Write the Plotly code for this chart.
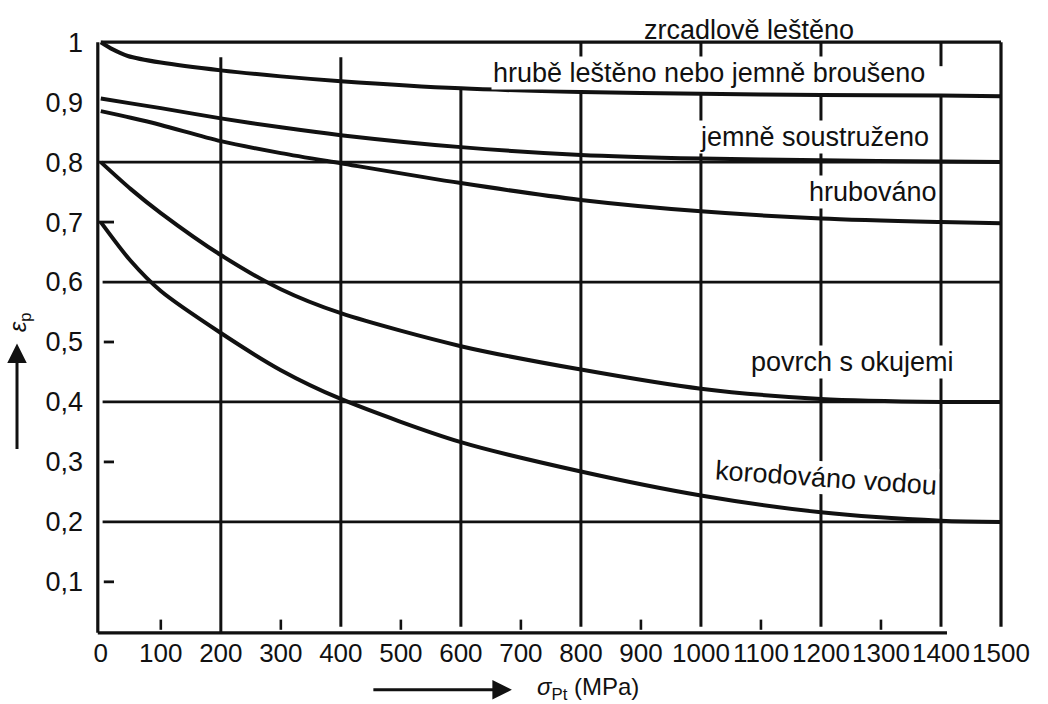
import numpy as np
import plotly.graph_objects as go

# ---- data -------------------------------------------------------------------
sigma = [0, 50, 100, 200, 300, 400, 600, 800, 1000, 1200, 1400, 1500]
sigma_hrube = [0, 20, 45, 100, 200, 300, 400, 600, 800, 1000, 1200, 1400, 1500]

sigma_zrcadlove = [0, 1500]
eps_zrcadlove = [1.0, 1.0]
eps_hrube = [1.000, 0.988, 0.977, 0.966, 0.953, 0.943, 0.935, 0.923, 0.917, 0.914, 0.912, 0.911, 0.910]
eps_jemne = [0.906, 0.898, 0.890, 0.873, 0.858, 0.845, 0.825, 0.812, 0.806, 0.803, 0.801, 0.800]
eps_hrubovano = [0.885, 0.874, 0.862, 0.835, 0.815, 0.798, 0.765, 0.737, 0.718, 0.706, 0.700, 0.698]
eps_okuje = [0.800, 0.755, 0.715, 0.645, 0.588, 0.548, 0.493, 0.454, 0.422, 0.405, 0.400, 0.400]
eps_voda = [0.700, 0.635, 0.585, 0.515, 0.453, 0.405, 0.333, 0.284, 0.244, 0.216, 0.202, 0.200]

curve_labels = ["zrcadlově leštěno", "hrubě leštěno nebo jemně broušeno",
                "jemně soustruženo", "hrubováno", "povrch s okujemi", "korodováno vodou"]
label_x = [1080, 1014, 1189, 1287, 1252, 1209]
label_y = [1.022, 0.948, 0.842, 0.750, 0.467, 0.273]
label_angle = [0, 0, 0, 0, 0, 4]

x_ticks = [0, 100, 200, 300, 400, 500, 600, 700, 800, 900, 1000, 1100, 1200, 1300, 1400, 1500]
x_ticktext = ["0", "100", "200", "300", "400", "500", "600", "700", "800", "900",
              "1000", "1100", "1200", "1300", "1400", "1500"]
y_ticks = [0.1, 0.2, 0.3, 0.4, 0.5, 0.6, 0.7, 0.8, 0.9, 1.0]
y_ticktext = ["0,1", "0,2", "0,3", "0,4", "0,5", "0,6", "0,7", "0,8", "0,9", "1"]

grid_x = [200, 400, 600, 800, 1000, 1200, 1400]
grid_y = [0.2, 0.4, 0.6, 0.8]
minor_x = [100, 300, 500, 700, 900, 1100, 1300]
minor_y = [0.1, 0.3, 0.5, 0.7]

X_MIN, X_MAX = -8, 1505
Y_MIN, Y_MAX = 0.008, 1.007
AX_X, AX_Y = -5, 0.015
INK = "#111111"
FONT = "Liberation Sans, Arial, sans-serif"

fig = go.Figure()

series = [(sigma_zrcadlove, eps_zrcadlove, 3.2),
          (sigma_hrube, eps_hrube, 4.0), (sigma, eps_jemne, 4.0), (sigma, eps_hrubovano, 4.0),
          (sigma, eps_okuje, 4.0), (sigma, eps_voda, 4.0)]
for (xs, ys, w), name in zip(series, curve_labels):
    fig.add_trace(go.Scatter(x=xs, y=ys, mode="lines", name=name, showlegend=False,
                             line=dict(color=INK, width=w, shape="spline", smoothing=0.8),
                             hoverinfo="skip"))

shapes = []
def seg(x0, y0, x1, y1, w=2.8):
    shapes.append(dict(type="line", xref="x", yref="y", x0=x0, y0=y0, x1=x1, y1=y1,
                       line=dict(color=INK, width=w), layer="below"))

# frame
seg(AX_X, AX_Y, AX_X, 1.0, 3.2)
seg(AX_X, AX_Y, 1410, AX_Y, 3.2)
seg(1500, 0.025, 1500, 1.0, 3.2)
# horizontal grid
for gy in grid_y:
    seg(AX_X if gy == 0.8 else 3, gy, 1500, gy)
# vertical grid
for gx in grid_x:
    if gx < 600:
        seg(gx, 0.975, gx, 0.015 if gx == 200 else 0.025, 3)
    else:
        top = float(np.interp(gx, sigma_hrube, eps_hrube))
        seg(gx, top, gx, 0.025, 3)
        if gx >= 800:
            seg(gx, 1.0, gx, 0.96, 3)
# minor ticks
for mx in minor_x:
    seg(mx, 0.02, mx, 0.037, 2.6)
for my in minor_y:
    seg(AX_X if my == 0.7 else 5, my, 22, my, 2.8)

annotations = []
for i, (txt, lx, ly, ang) in enumerate(zip(curve_labels, label_x, label_y, label_angle)):
    if i == 0:
        annotations.append(dict(x=lx, y=1.014, xref="x", yref="paper", yanchor="middle",
                                text=txt, showarrow=False,
                                font=dict(family=FONT, size=27, color=INK)))
    else:
        annotations.append(dict(x=lx, y=ly, xref="x", yref="y", text=txt, showarrow=False,
                                textangle=ang, font=dict(family=FONT, size=27, color=INK),
                                bgcolor="white", borderpad=1))

# axis titles with arrows
annotations.append(dict(x=0.458, y=-0.088, xref="paper", yref="paper", ax=-140, ay=0,
                        text="", showarrow=True, arrowhead=2, arrowsize=1.3,
                        arrowwidth=3, arrowcolor=INK))
annotations.append(dict(x=0.483, y=-0.086, xref="paper", yref="paper",
                        xanchor="left", yanchor="middle",
                        text="<i>σ</i><sub>Pt</sub> (MPa)", showarrow=False,
                        font=dict(family=FONT, size=24, color=INK)))
annotations.append(dict(x=-0.087, y=0.49, xref="paper", yref="paper", ax=0, ay=107,
                        text="", showarrow=True, arrowhead=2, arrowsize=1.3,
                        arrowwidth=3, arrowcolor=INK))
annotations.append(dict(x=-0.084, y=0.525, xref="paper", yref="paper",
                        xanchor="center", yanchor="middle", textangle=-90,
                        text="<i>ε</i><sub>p</sub>", showarrow=False,
                        font=dict(family=FONT, size=24, color=INK)))

fig.update_layout(
    width=1048, height=704,
    margin=dict(l=96, r=44, t=38, b=67),
    paper_bgcolor="white", plot_bgcolor="white",
    shapes=shapes, annotations=annotations,
    xaxis=dict(range=[X_MIN, X_MAX], tickvals=x_ticks, ticktext=x_ticktext,
               showgrid=False, zeroline=False, showline=False, ticks="",
               ticklabelstandoff=-2, tickfont=dict(family=FONT, size=26, color=INK)),
    yaxis=dict(range=[Y_MIN, Y_MAX], tickvals=y_ticks, ticktext=y_ticktext,
               showgrid=False, zeroline=False, showline=False, ticks="",
               ticklabelstandoff=12, tickfont=dict(family=FONT, size=27, color=INK)),
)

fig.write_html("out.html")
